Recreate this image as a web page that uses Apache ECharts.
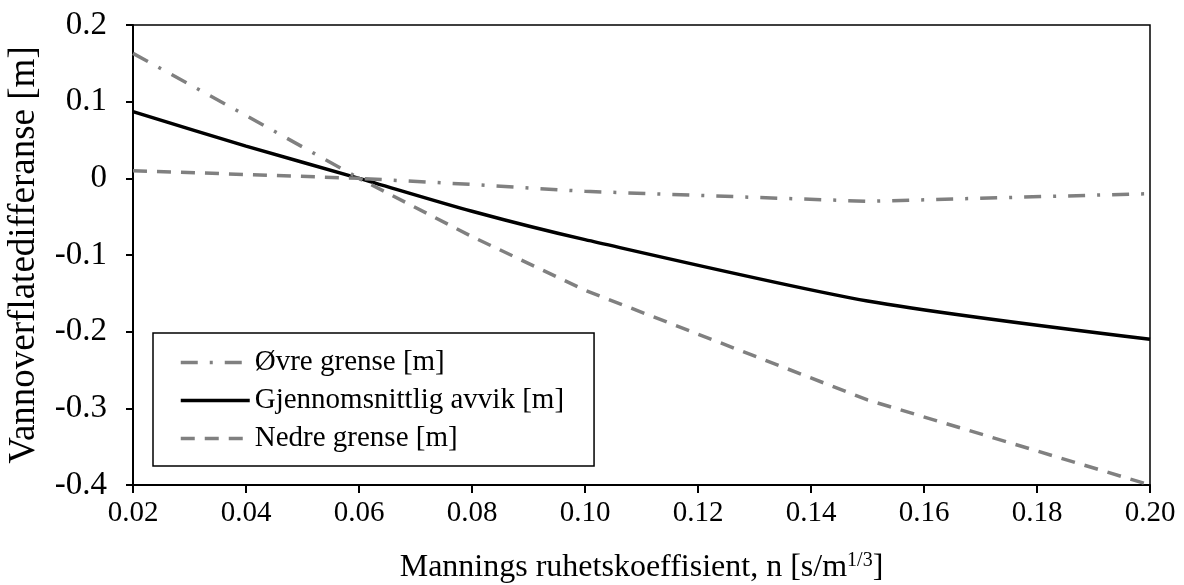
<!DOCTYPE html>
<html>
<head>
<meta charset="utf-8">
<script src="https://cdn.jsdelivr.net/npm/echarts@6/dist/echarts.min.js"></script>
<style>
html,body{margin:0;padding:0;background:#fff;}
#chart{width:1184px;height:585px;}
</style>
</head>
<body>
<div id="chart"></div>
<script>
// Data
const nValues = [0.02, 0.04, 0.06, 0.08, 0.10, 0.15, 0.20];
const ovreGrense = [0.163, 0.082, 0.0, -0.008, -0.017, -0.030, -0.020];
const gjennomsnitt = [0.087, 0.042, 0.0, -0.043, -0.080, -0.160, -0.210];
const nedreGrense = [0.010, 0.005, 0.0, -0.076, -0.146, -0.289, -0.400];
const seriesNames = ['Øvre grense [m]', 'Gjennomsnittlig avvik [m]', 'Nedre grense [m]'];
const xAxisTitle = 'Mannings ruhetskoeffisient, n [s/m';
const yAxisTitle = 'Vannoverflatedifferanse [m]';

const FONT = '"Liberation Serif", "Times New Roman", serif';
const pairs = arr => nValues.map((x, i) => [x, arr[i]]);

const chart = echarts.init(document.getElementById('chart'), null, {renderer: 'canvas'});
chart.setOption({
  animation: false,
  backgroundColor: '#ffffff',
  grid: {left: 133, right: 34, top: 25, bottom: 100, containLabel: false, outerBoundsMode: 'none',
         show: true, borderColor: '#000', borderWidth: 1.5, backgroundColor: 'transparent'},
  legend: {
    show: true,
    orient: 'vertical',
    left: 153, top: 333,
    padding: [15, 30, 13, 26],
    itemGap: 9,
    itemWidth: 69, itemHeight: 14,
    borderColor: '#000', borderWidth: 1.5,
    backgroundColor: '#fff',
    itemStyle: {color: 'rgba(0,0,0,0)', borderColor: 'rgba(0,0,0,0)', borderWidth: 0, opacity: 0},
    lineStyle: {width: 3.5},
    textStyle: {fontFamily: FONT, fontSize: 29, color: '#000'},
    data: seriesNames
  },
  xAxis: {
    type: 'value', min: 0.02, max: 0.20, interval: 0.02,
    name: '{a|' + xAxisTitle + '}{s|1/3}{a|]}',
    nameLocation: 'middle', nameGap: 66,
    nameTextStyle: {
      rich: {
        a: {fontFamily: FONT, fontSize: 32, color: '#000'},
        s: {fontFamily: FONT, fontSize: 20, color: '#000', verticalAlign: 'top', padding: [0, 0, 14, 0]}
      }
    },
    axisLine: {show: true, onZero: false, lineStyle: {color: '#000', width: 2}},
    axisTick: {show: true, inside: false, length: 8, lineStyle: {color: '#000', width: 2}},
    splitLine: {show: false},
    axisLabel: {fontFamily: FONT, fontSize: 29, color: '#000', margin: 14, formatter: v => v.toFixed(2)}
  },
  yAxis: {
    type: 'value', min: -0.4, max: 0.2, interval: 0.1,
    name: yAxisTitle, nameLocation: 'middle', nameGap: 90, nameRotate: 90,
    nameTextStyle: {fontFamily: FONT, fontSize: 37, color: '#000'},
    axisLine: {show: true, onZero: false, lineStyle: {color: '#000', width: 2}},
    axisTick: {show: true, inside: false, length: 7, lineStyle: {color: '#000', width: 2}},
    splitLine: {show: false},
    axisLabel: {fontFamily: FONT, fontSize: 33, color: '#000', margin: 26, formatter: v => String(Number(v.toFixed(1)))}
  },
  series: [
    {name: seriesNames[0], type: 'line', data: pairs(ovreGrense), symbol: 'none', z: 3,
     lineStyle: {color: '#808080', width: 3.5, type: [17, 12, 3, 12]}, itemStyle: {color: '#808080'}},
    {name: seriesNames[1], type: 'line', data: pairs(gjennomsnitt), symbol: 'none', smooth: 0.25, z: 2,
     lineStyle: {color: '#000', width: 3.5, type: 'solid'}, itemStyle: {color: '#000'}},
    {name: seriesNames[2], type: 'line', data: pairs(nedreGrense), symbol: 'none', z: 3,
     lineStyle: {color: '#808080', width: 3.5, type: [14, 10]}, itemStyle: {color: '#808080'}}
  ]
});
</script>
</body>
</html>
